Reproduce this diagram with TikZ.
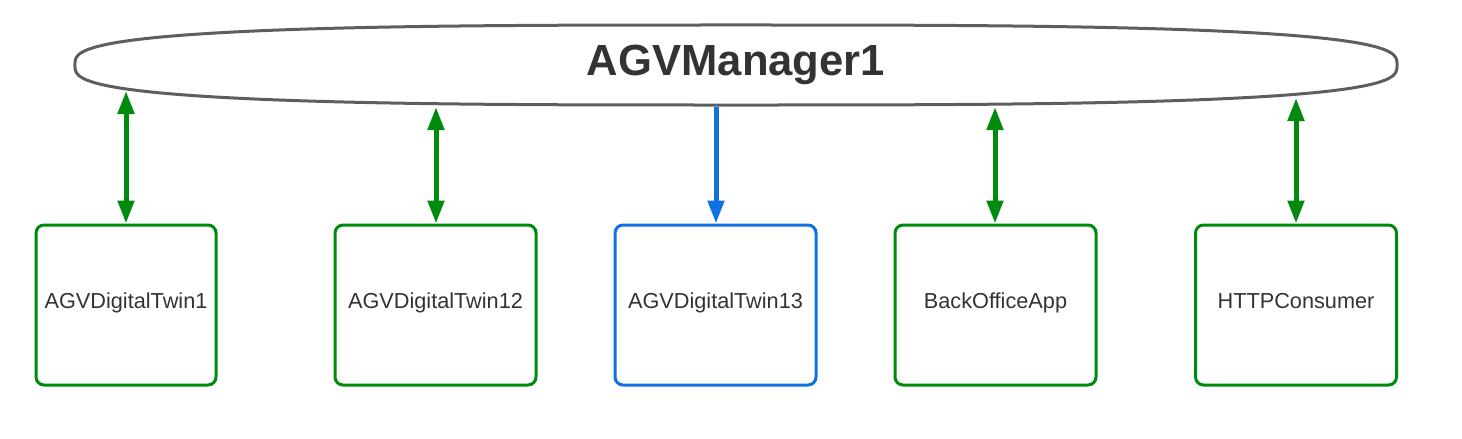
\documentclass[tikz,border=0pt]{standalone}
\usepackage{fontspec}
\setmainfont{Liberation Sans}
\usetikzlibrary{arrows.meta}
\definecolor{lgreen}{RGB}{0,138,14}
\definecolor{lblue}{RGB}{16,113,229}
\definecolor{lgray}{RGB}{94,94,94}
\definecolor{ltext}{RGB}{51,51,51}
\tikzset{
  ellline/.style={draw=lgray, line width=3pt},
  boxnode/.style={draw=lgreen, line width=3pt, rounded corners=8pt, minimum height=160pt,
    minimum width=201pt, inner sep=0pt, text=ltext, font=\fontsize{21.7}{26}\selectfont,
    text height=12pt, text depth=5pt},
  bluebox/.style={boxnode, draw=lblue},
  tipg/.tip={Triangle[length=23pt,width=16pt]},
  garrow/.style={draw=lgreen, line width=5pt, {Triangle[length=23pt,width=16pt]}-{Triangle[length=23pt,width=16pt]}},
  barrow/.style={draw=lblue, line width=5pt, -{Triangle[length=23pt,width=16pt]}},
  titlenode/.style={text=ltext, font=\bfseries\fontsize{43.6}{50}\selectfont, inner sep=0pt, anchor=base}
}
\begin{document}
\begin{tikzpicture}[x=1pt,y=-1pt]
\useasboundingbox (0,0) rectangle (1462,439);
% superellipse outline
\draw[ellline] plot[domain=0.5:360.5, samples=361, smooth]
  ({736+661*sign(cos(\x))*abs(cos(\x))^(0.6667)}, {65+40*sign(sin(\x))*abs(sin(\x))^(0.6667)}) -- cycle;
\node[titlenode] (title) at (736,75) {AGVManager1};
% points on the manager outline
\coordinate (e1) at (126,91);
\coordinate (e2) at (436,107);
\coordinate (e3) at (716,107);
\coordinate (e4) at (995,107);
\coordinate (e5) at (1296,98);
% boxes
\node[boxnode, minimum width=180pt] (b1) at (126,305) {AGVDigitalTwin1};
\node[boxnode] (b2) at (435.5,305) {AGVDigitalTwin12};
\node[bluebox] (b3) at (715.5,305) {AGVDigitalTwin13};
\node[boxnode] (b4) at (995.5,305) {BackOfficeApp};
\node[boxnode] (b5) at (1296,305) {HTTPConsumer};
% connectors
\draw[garrow] (e1) -- (e1 |- b1.north);
\draw[garrow] (e2) -- (e2 |- b2.north);
\draw[barrow] (e3) -- (e3 |- b3.north);
\draw[garrow] (e4) -- (e4 |- b4.north);
\draw[garrow] (e5) -- (e5 |- b5.north);
\end{tikzpicture}
\end{document}
